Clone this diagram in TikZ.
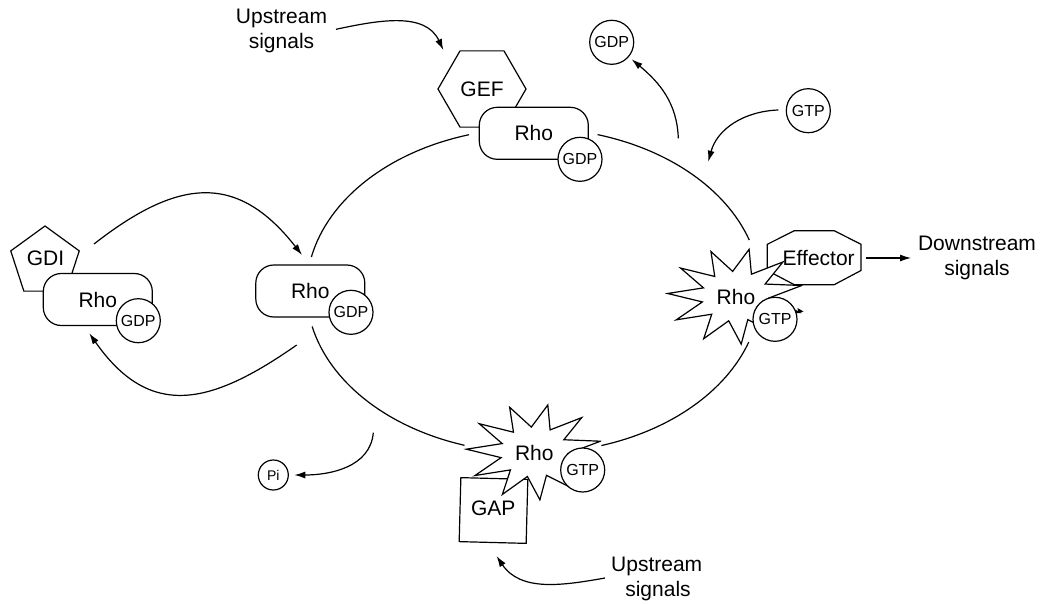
\documentclass[tikz,border=0pt]{standalone}
\usepackage{fontspec}
\setmainfont{Liberation Sans}
\usetikzlibrary{shapes.geometric,arrows.meta,calc}
\tikzset{
  ln/.style={line width=1.2pt},
  arr/.style={line width=1.2pt,-{Latex[length=11pt,width=7pt]}},
  big/.style={inner sep=0pt,font=\fontsize{21}{25}\selectfont},
  rhobox/.style={draw,line width=1.2pt,fill=white,rounded corners=18pt,minimum width=109pt,minimum height=52pt,inner sep=0pt,font=\fontsize{21}{25}\selectfont},
  nuc/.style={draw,circle,line width=1.2pt,fill=white,minimum size=44pt,inner sep=0pt,font=\fontsize{16}{19}\selectfont},
  burst/.pic={\draw[line width=1.2pt,fill=white] (13:68 and 48)
     \foreach \k in {0,...,10}{ -- ({29.364+\k*32.727}:34 and 25) -- ({45.727+\k*32.727}:68 and 48)} -- cycle;}
}
\begin{document}
\begin{tikzpicture}[x=1pt,y=1pt]
\useasboundingbox (0,0) rectangle (1041,-603);

% cycle (ellipse segments)
\coordinate (C) at (533.5,-290.5);
\draw[ln] (C) ++(168.1:227 and 162.5) arc[start angle=168.1,end angle=106.5,x radius=227,y radius=162.5];
\draw[ln] (C) ++(73.6:227 and 162.5) arc[start angle=73.6,end angle=18.1,x radius=227,y radius=162.5];
\draw[ln] (C) ++(-18.5:227 and 162.5) arc[start angle=-18.5,end angle=-72.6,x radius=227,y radius=162.5];
\draw[ln] (C) ++(252.3:227 and 162.5) arc[start angle=252.3,end angle=192.8,x radius=227,y radius=162.5];

% arrow end points
\coordinate (a1s) at (94,-244);     \coordinate (a1e) at (302,-255);
\coordinate (a2s) at (296.7,-345);  \coordinate (a2e) at (89.3,-333.3);
\coordinate (u1s) at (336,-29.3);   \coordinate (u1e) at (443.3,-50);
\coordinate (g1s) at (678.3,-138.3); \coordinate (g1e) at (631.7,-59.3);
\coordinate (t1s) at (778.3,-110);  \coordinate (t1e) at (708.3,-161.7);
\coordinate (p1s) at (373.3,-432.7); \coordinate (p1e) at (294.3,-475);
\coordinate (u2s) at (605,-578);    \coordinate (u2e) at (496.5,-556);
\coordinate (e1s) at (866,-258);    \coordinate (e1e) at (911,-258);

\draw[arr] (a1s) to[out=38,in=128,looseness=1.3] (a1e);
\draw[arr] (a2s) to[out=215,in=-55,looseness=1.3] (a2e);
\draw[arr] (u1s) to[out=12,in=115] (u1e);
\draw[arr] (g1s) to[out=92,in=-40] (g1e);
\draw[arr] (t1s) to[out=182,in=75] (t1e);
\draw[arr] (p1s) to[out=-95,in=0] (p1e);
\draw[arr] (u2s) to[out=190,in=-56] (u2e);
\draw[arr] (e1s) -- (e1e);

% left complex: GDI-Rho-GDP
\node[regular polygon,regular polygon sides=5,draw,ln,minimum size=72pt,inner sep=0pt] (gdipoly) at (45,-262) {};
\node[big] (gdi) at (45.5,-258) {GDI};
\node[rhobox] (rhoL) at (97.8,-299.5) {Rho};
\node[nuc] (gdpL) at (138.3,-320.7) {GDP};

% centre Rho-GDP
\node[rhobox] (rhoC) at (310.3,-291) {Rho};
\node[nuc] (gdpC) at (351,-312.3) {GDP};

% top GEF complex
\node[regular polygon,regular polygon sides=6,draw,ln,minimum size=88pt,big] (gef) at (482,-89) {GEF};
\node[rhobox] (rhoT) at (533.8,-133.3) {Rho};
\node[nuc] (gdpT) at (580,-159.3) {GDP};

% free nucleotides
\node[nuc] (gdpF) at (611.7,-42.3) {GDP};
\node[nuc] (gtpF) at (808.3,-110.7) {GTP};

% effector complex
\draw[ln,fill=white] (767.3,-244.3) -- (794.3,-230.7) -- (834.2,-230.7) -- (861,-244.3)
   -- (861,-270.5) -- (834.2,-284.7) -- (794.3,-284.7) -- (767.3,-270.5) -- cycle;
\node[big] (eff) at (818.7,-258) {Effector};
\pic at (735.5,-296.3) {burst};
\node[big] (rhoR) at (736,-297.3) {Rho};
\node[nuc] (gtpR) at (775,-319.3) {GTP};
\fill (797.5,-308) -- (803.5,-311.5) -- (798.5,-313) -- cycle;

% GAP complex
\node[draw,ln,rotate=-1.5,minimum width=67pt,minimum height=64pt,fill=white] (gapbox) at (493.5,-510.5) {};
\node[big] (gap) at (493.3,-508.3) {GAP};
\pic at (534.2,-452) {burst};
\node[big] (rhoB) at (534.3,-452.7) {Rho};
\node[nuc] (gtpB) at (582.7,-470) {GTP};

% Pi
\node[nuc,minimum size=30pt,font=\fontsize{14}{16}\selectfont] (pi) at (273.3,-475) {Pi};

% labels
\node[big,anchor=base] (us1a) at (281.5,-23.3) {Upstream};
\node[big,anchor=base] (us1b) at (281.5,-48.7) {signals};
\node[big,anchor=base] (us2a) at (656.7,-571) {Upstream};
\node[big,anchor=base] (us2b) at (658,-596.7) {signals};
\node[big,anchor=base] (ds1) at (977,-250) {Downstream};
\node[big,anchor=base] (ds2) at (977,-275.5) {signals};
\end{tikzpicture}
\end{document}
